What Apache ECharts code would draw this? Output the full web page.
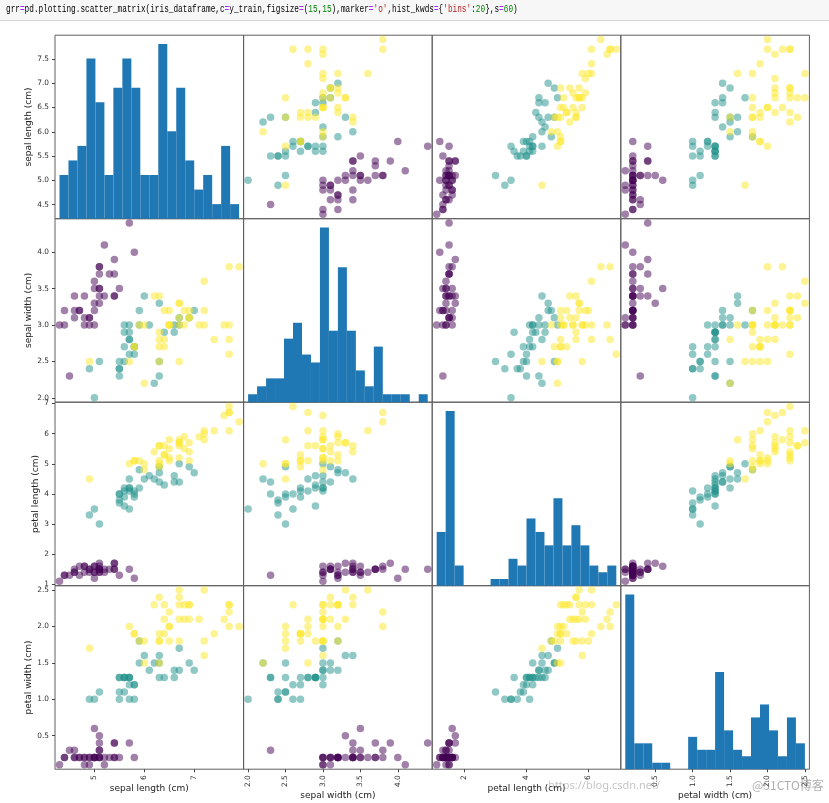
<!DOCTYPE html>
<html>
<head>
<meta charset="utf-8">
<script src="https://cdn.jsdelivr.net/npm/echarts@6/dist/echarts.min.js"></script>
<style>
html,body{margin:0;padding:0;background:#fff;width:829px;height:803px;overflow:hidden;}
#hdr{position:absolute;left:0;top:0;width:829px;height:21px;background:#f7f7f7;border-bottom:1px solid #d6d6d6;box-sizing:border-box;
 font-family:'Liberation Mono','DejaVu Sans Mono',monospace;font-size:7.75px;line-height:20px;padding-left:6px;color:#000;white-space:nowrap;z-index:2;}
#hdr span.t{display:inline-block;transform:scaleY(1.4);transform-origin:50% 55%;}
.n{color:#008000}.s{color:#ba2121}.o{color:#aa22ff}
#chart{position:absolute;left:0;top:0;width:829px;height:803px;}
</style>
</head>
<body>
<div id="chart"></div>
<div id="hdr"><span class="t">grr<span class="o">=</span>pd.plotting.scatter_matrix(iris_dataframe,c<span class="o">=</span>y_train,figsize<span class="o">=</span>(<span class="n">15</span>,<span class="n">15</span>),marker<span class="o">=</span><span class="s">'o'</span>,hist_kwds<span class="o">=</span>{<span class="s">'bins'</span>:<span class="n">20</span>},s<span class="o">=</span><span class="n">60</span>)</span></div>
<script>
// ---- data (training samples) ----
const sepalLength = [
 5.1,4.9,4.7,4.6,5.0,5.4,4.6,4.9,5.4,4.8,4.8,4.3,5.8,5.7,5.1,5.1,5.4,5.1,5.1,5.0,5.2,4.7,4.8,5.4,5.2,4.9,5.0,5.5,4.4,5.1,4.5,4.4,5.0,5.1,4.6,5.3,5.0,
 7.0,6.9,5.5,5.7,6.3,4.9,6.6,5.0,5.9,5.6,6.7,5.8,6.2,5.6,5.9,6.3,6.4,6.6,6.7,5.7,5.5,5.5,5.8,6.0,6.3,5.6,5.5,6.1,5.8,5.6,5.7,5.7,5.1,5.7,
 5.8,7.1,6.3,6.5,7.6,4.9,6.7,7.2,6.5,6.4,6.8,5.7,6.4,6.5,7.7,7.7,6.0,6.9,7.7,6.3,6.7,7.2,6.4,7.2,7.4,7.9,6.3,7.7,6.3,6.0,6.9,6.7,6.9,5.8,6.8,6.7,6.7,6.3,6.5,6.2,5.9];
const sepalWidth = [
 3.5,3.0,3.2,3.1,3.6,3.9,3.4,3.1,3.7,3.4,3.0,3.0,4.0,4.4,3.5,3.8,3.4,3.7,3.3,3.0,3.4,3.2,3.1,3.4,4.1,3.1,3.2,3.5,3.0,3.4,2.3,3.2,3.5,3.8,3.2,3.7,3.3,
 3.2,3.1,2.3,2.8,3.3,2.4,2.9,2.0,3.0,2.9,3.1,2.7,2.2,2.5,3.2,2.5,2.9,3.0,3.0,2.6,2.4,2.4,2.7,3.4,2.3,3.0,2.5,3.0,2.6,2.7,3.0,2.9,2.5,2.8,
 2.7,3.0,2.9,3.0,3.0,2.5,2.5,3.6,3.2,2.7,3.0,2.5,3.2,3.0,3.8,2.6,2.2,3.2,2.8,2.7,3.3,3.2,2.8,3.0,2.8,3.8,2.8,3.0,3.4,3.0,3.1,3.1,3.1,2.7,3.2,3.3,3.0,2.5,3.0,3.4,3.0];
const petalLength = [
 1.4,1.4,1.3,1.5,1.4,1.7,1.4,1.5,1.5,1.6,1.4,1.1,1.2,1.5,1.4,1.5,1.7,1.5,1.7,1.6,1.4,1.6,1.6,1.5,1.5,1.5,1.2,1.3,1.3,1.5,1.3,1.3,1.6,1.6,1.4,1.5,1.4,
 4.7,4.9,4.0,4.5,4.7,3.3,4.6,3.5,4.2,3.6,4.4,4.1,4.5,3.9,4.8,4.9,4.3,4.4,5.0,3.5,3.8,3.7,3.9,4.5,4.4,4.1,4.0,4.6,4.0,4.2,4.2,4.2,3.0,4.1,
 5.1,5.9,5.6,5.8,6.6,4.5,5.8,6.1,5.1,5.3,5.5,5.0,5.3,5.5,6.7,6.9,5.0,5.7,6.7,4.9,5.7,6.0,5.6,5.8,6.1,6.4,5.1,6.1,5.6,4.8,5.4,5.6,5.1,5.1,5.9,5.7,5.2,5.0,5.2,5.4,5.1];
const petalWidth = [
 0.2,0.2,0.2,0.2,0.2,0.4,0.3,0.1,0.2,0.2,0.1,0.1,0.2,0.4,0.3,0.3,0.2,0.4,0.5,0.2,0.2,0.2,0.2,0.4,0.1,0.2,0.2,0.2,0.2,0.2,0.3,0.2,0.6,0.2,0.2,0.2,0.2,
 1.4,1.5,1.3,1.3,1.6,1.0,1.3,1.0,1.5,1.3,1.4,1.0,1.5,1.1,1.8,1.5,1.3,1.4,1.7,1.0,1.1,1.0,1.2,1.6,1.3,1.3,1.3,1.4,1.2,1.3,1.2,1.3,1.1,1.3,
 1.9,2.1,1.8,2.2,2.1,1.7,1.8,2.5,2.0,1.9,2.1,2.0,2.3,1.8,2.2,2.3,1.5,2.3,2.0,1.8,2.1,1.8,2.1,1.6,1.9,2.0,1.5,2.3,2.4,1.8,2.1,2.4,2.3,1.9,2.3,2.5,2.3,1.9,2.0,2.3,1.8];
const species = [
 0,0,0,0,0,0,0,0,0,0,0,0,0,0,0,0,0,0,0,0,0,0,0,0,0,0,0,0,0,0,0,0,0,0,0,0,0,
 1,1,1,1,1,1,1,1,1,1,1,1,1,1,1,1,1,1,1,1,1,1,1,1,1,1,1,1,1,1,1,1,1,1,
 2,2,2,2,2,2,2,2,2,2,2,2,2,2,2,2,2,2,2,2,2,2,2,2,2,2,2,2,2,2,2,2,2,2,2,2,2,2,2,2,2];
const featureNames = ['sepal length (cm)','sepal width (cm)','petal length (cm)','petal width (cm)'];
const yTickValues = [[4.5,5.0,5.5,6.0,6.5,7.0,7.5],[2.0,2.5,3.0,3.5,4.0],[1,2,3,4,5,6,7],[0.5,1.0,1.5,2.0,2.5]];
const xTickValues = [[5,6,7],[2.0,2.5,3.0,3.5,4.0],[2,4,6],[0.5,1.0,1.5,2.0,2.5]];
const histBins = 20;

// ---- styling / layout ----
const classColors = ['#440154','#21918c','#fde725'];
const decimals = [1,1,0,1];
const xDecimals = [0,1,0,1];
const L0 = 55, T0 = 35.2, CW = 188.6, CH = 183.5;
const FONT = 'DejaVu Sans';
const frameColor = '#606060';
const xNameGap = [15, 22, 15, 22];
const yNameGap = [21, 21, 15, 21];

const features = [sepalLength, sepalWidth, petalLength, petalWidth];
const bounds = features.map(v => {
  const lo = Math.min(...v), hi = Math.max(...v);
  const ext = (hi - lo) * 0.05 / 2;
  return [lo - ext, hi + ext];
});
function histogram(vals, nb) {
  const lo = Math.min(...vals), hi = Math.max(...vals);
  const step = (hi - lo) / nb;
  const edges = [];
  for (let e = 0; e <= nb; e++) edges.push(e * step + lo);
  edges[nb] = hi;
  const counts = new Array(nb).fill(0);
  vals.forEach(v => {
    let idx = Math.floor((v - lo) / (hi - lo) * nb);
    if (idx === nb) idx--;
    if (v < edges[idx]) idx--;
    else if (v >= edges[idx + 1] && idx !== nb - 1) idx++;
    counts[idx]++;
  });
  return counts.map((c, e) => [edges[e], edges[e + 1], c]);
}

const grids = [], xAxes = [], yAxes = [], series = [];
const labelStyle = {fontSize: 7.4, color: '#333', fontFamily: FONT};
const nameStyle = {fontSize: 9, color: '#222', fontFamily: FONT};
for (let i = 0; i < 4; i++) {
  for (let j = 0; j < 4; j++) {
    const k = i * 4 + j;
    grids.push({left: L0 + j * CW, top: T0 + i * CH, width: CW, height: CH, show: true,
      borderColor: frameColor, borderWidth: 1, backgroundColor: 'transparent'});
    const bottom = i === 3;
    xAxes.push({
      gridIndex: k, type: 'value', min: bounds[j][0], max: bounds[j][1],
      axisLine: {show: false}, splitLine: {show: false},
      axisTick: {show: bottom, customValues: xTickValues[j], length: 3, lineStyle: {color: '#444'}},
      axisLabel: Object.assign({show: bottom, customValues: xTickValues[j], rotate: 90, margin: 6,
        formatter: v => Number(v).toFixed(xDecimals[j])}, labelStyle),
      name: bottom ? featureNames[j] : '', nameLocation: 'middle', nameGap: xNameGap[j], nameTextStyle: nameStyle
    });
    const left = j === 0;
    if (i === j) {
      const h = histogram(features[i], histBins);
      const maxC = Math.max(...h.map(d => d[2]));
      yAxes.push({gridIndex: k, type: 'value', min: 0, max: maxC * 1.05, show: false, position: 'right'});
      series.push({
        type: 'custom', xAxisIndex: k, yAxisIndex: k, data: h, silent: true,
        encode: {x: [0, 1], y: 2},
        renderItem: (params, api) => {
          const p0 = api.coord([api.value(0), 0]);
          const p1 = api.coord([api.value(1), api.value(2)]);
          return {type: 'rect', shape: {x: p0[0], y: p1[1], width: p1[0] - p0[0], height: p0[1] - p1[1]},
            style: {fill: '#1f77b4'}};
        }
      });
    } else {
      yAxes.push({
        gridIndex: k, type: 'value', min: bounds[i][0], max: bounds[i][1], position: 'left',
        axisLine: {show: false}, splitLine: {show: false},
        axisTick: {show: left, customValues: yTickValues[i], length: 3, lineStyle: {color: '#444'}},
        axisLabel: Object.assign({show: left, customValues: yTickValues[i], margin: 6,
          formatter: v => Number(v).toFixed(decimals[i])}, labelStyle),
        name: left ? featureNames[i] : '', nameLocation: 'middle', nameGap: yNameGap[i], nameTextStyle: nameStyle
      });
      const data = species.map((c, n) => [features[j][n], features[i][n], c]);
      series.push({
        type: 'scatter', xAxisIndex: k, yAxisIndex: k, data: data, symbolSize: 7.5, silent: true,
        itemStyle: {color: p => classColors[p.value[2]], opacity: 0.5}
      });
    }
  }
}
// tick labels of the first row (sepal length) beside the histogram
yAxes.push({
  gridIndex: 0, type: 'value', min: bounds[0][0], max: bounds[0][1], position: 'left',
  axisLine: {show: false}, splitLine: {show: false},
  axisTick: {show: true, customValues: yTickValues[0], length: 3, lineStyle: {color: '#444'}},
  axisLabel: Object.assign({show: true, customValues: yTickValues[0], margin: 6,
    formatter: v => Number(v).toFixed(decimals[0])}, labelStyle),
  name: featureNames[0], nameLocation: 'middle', nameGap: yNameGap[0], nameTextStyle: nameStyle
});

const chart = echarts.init(document.getElementById('chart'), null, {renderer: 'canvas'});
chart.setOption({
  backgroundColor: '#fff',
  animation: false,
  grid: grids, xAxis: xAxes, yAxis: yAxes, series: series,
  graphic: [
    {type: 'text', left: 548, top: 780, z: 100,
     style: {text: 'https://blog.csdn.net/', fill: 'rgba(150,150,150,0.55)', font: '11px "Noto Sans"'}},
    {type: 'text', left: 752, top: 779, z: 100,
     style: {text: '@51CTO博客', fill: 'rgba(120,120,120,0.6)', font: '12px "Noto Sans CJK SC"'}}
  ]
});
</script>
</body>
</html>
